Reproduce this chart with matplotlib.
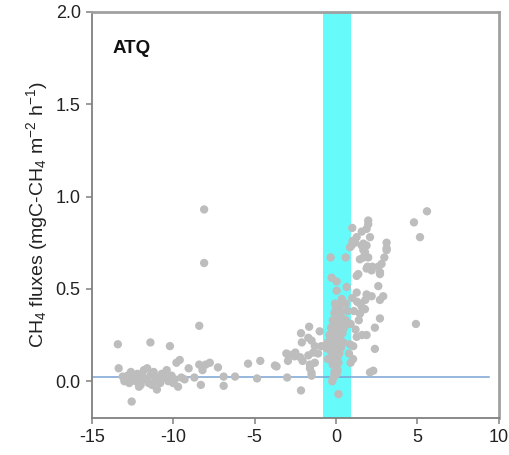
import numpy as np
import matplotlib.pyplot as plt

plt.rcParams['font.family'] = ['Liberation Sans', 'DejaVu Sans']
plt.rcParams['mathtext.fontset'] = 'custom'
plt.rcParams['mathtext.rm'] = 'Liberation Sans'
plt.rcParams['mathtext.it'] = 'Liberation Sans:italic'
plt.rcParams['axes.unicode_minus'] = False

# days relative to event (x) and CH4 flux (y)
days = [
    -13.4, -11.4, -10.2, -8.4, -8.1, -8.1,
    -13.35, -13.1, -12.9, -12.7, -12.5, -12.3, -12.2, -12.0, -11.9, -11.8,
    -11.7, -11.5, -11.4, -11.2, -11.1, -10.9, -10.8, -10.7, -10.5, -10.4,
    -10.3, -10.1, -9.9, -9.8, -9.7, -9.6, -9.5, -9.3, -9.05, -8.7, -8.4,
    -8.3, -8.2, -8.0, -7.75, -7.25, -6.9, -6.9, -6.2, -5.4, -4.85, -4.65,
    -11.0, -12.55, -12.0, -12.6, -11.6, -12.1, -10.0, -11.3, -12.8, -13.0,
    -3.65, -3.0, -2.95, -2.95, -2.55, -2.15, -2.15, -2.05, -1.65, -1.7,
    -1.5, -1.6, -1.5, -1.3, -0.9, -1.0, -2.2, -1.7, -1.3, -1.6, -1.5,
    -1.1, -2.5, -2.1, -1.4, -3.05, -3.75, -2.6,
    -0.33, 0.6, -0.27, 0.04, 0.66, 0.04, -0.06, 0.35, -0.23, 0.15,
    0.0, 0.2, 0.4, 0.6, -0.1, 0.1, 0.3, 0.7, -0.2, 0.0, 0.2, 0.4,
    0.6, -0.3, -0.1, 0.1, 0.3, 0.5, -0.4, -0.2, 0.0, 0.2, 0.4, -0.5, -0.3,
    -0.1, 0.1, 0.3, -0.4, -0.2, 0.0, 0.2, -0.3, -0.1, 0.1, -0.2, 0.0, 0.15,
    -0.1, 0.05, -0.15, 0.1, -0.5, -0.6, 0.3, 0.45,
    1.98, 1.98, 1.0, 1.58, 1.88, 2.09, 1.27, 0.96, 1.17, 1.58, 1.88, 1.78,
    1.98, 1.68, 3.11, 3.11, 2.97, 2.8, 2.6, 2.23, 1.94, 2.7, 1.27, 2.6,
    1.27, 1.88, 2.19, 2.9, 2.7, 2.7, 2.39, 1.88, 2.39, 2.29, 2.09, 1.27,
    1.06, 1.47, 1.78, 1.47, 1.8, 0.86, 1.02, 0.86,
    4.79, 5.59, 5.16, 4.91,
    1.0, 1.3, 1.6, 1.1, 1.4, 0.9, 1.2, 1.6, 0.8, 0.9, 1.05,
    1.37, 1.88, 2.19, 2.7, 1.47, 1.68, 1.68, 3.11,
]
flux = [
    0.20, 0.21, 0.19, 0.30, 0.93, 0.64,
    0.07, 0.025, 0.01, -0.01, 0.02, 0.0, 0.04, -0.02, 0.03, 0.06,
    0.01, -0.01, 0.03, 0.05, 0.0, 0.02, -0.01, 0.04, 0.02, 0.06,
    0.0, 0.03, 0.01, 0.10, -0.03, 0.115, 0.02, 0.01, 0.07, 0.02, 0.09,
    -0.02, 0.06, 0.09, 0.10, 0.075, 0.025, -0.025, 0.025, 0.095, 0.015, 0.11,
    -0.045, -0.11, 0.0, 0.05, 0.07, -0.03, -0.01, -0.02, 0.03, 0.0,
    0.08, 0.02, 0.145, 0.11, 0.135, 0.26, -0.05, 0.11, 0.295, 0.235,
    0.03, 0.07, 0.22, 0.19, 0.19, 0.27, 0.13, 0.14, 0.10, 0.09, 0.045,
    0.15, 0.155, 0.21, 0.155, 0.15, 0.085, 0.145,
    0.67, 0.67, 0.56, 0.54, 0.51, 0.49, 0.42, 0.445, 0.0, -0.07,
    0.40, 0.41, 0.43, 0.42, 0.37, 0.36, 0.38, 0.38, 0.33, 0.32, 0.33, 0.34,
    0.33, 0.29, 0.28, 0.29, 0.30, 0.29, 0.25, 0.24, 0.25, 0.24, 0.26, 0.21, 0.20,
    0.21, 0.20, 0.22, 0.17, 0.16, 0.17, 0.15, 0.13, 0.12, 0.13, 0.09, 0.08, 0.10,
    0.05, 0.04, 0.02, 0.06, 0.12, 0.18, 0.18, 0.21,
    0.87, 0.85, 0.83, 0.81, 0.825, 0.78, 0.78, 0.735, 0.75, 0.735, 0.735, 0.70,
    0.67, 0.67, 0.75, 0.72, 0.67, 0.635, 0.62, 0.62, 0.62, 0.58, 0.57, 0.515,
    0.48, 0.47, 0.46, 0.46, 0.44, 0.34, 0.29, 0.25, 0.175, 0.057, 0.048, 0.24,
    0.19, 0.365, 0.39, 0.42, 0.44, 0.725, 0.76, 0.20,
    0.86, 0.92, 0.78, 0.31,
    0.45, 0.43, 0.40, 0.38, 0.33, 0.31, 0.28, 0.25, 0.15, 0.10, 0.12,
    0.58, 0.61, 0.60, 0.59, 0.66, 0.71, 0.745, 0.71,
]

band = (-0.78, 0.92)
baseline = 0.023

fig = plt.figure(figsize=(5.1, 4.55), dpi=100)
ax = fig.add_axes([0.18, 0.081, 0.798, 0.893])

ax.axvspan(band[0], band[1], color='#66fafa', zorder=1, lw=0)
ax.plot([-15, 9.4], [baseline, baseline], color='#7aa3d3', lw=1.1, zorder=2)
ax.scatter(days, flux, s=36, color='#bdbdbd', edgecolors='none', zorder=3)

ax.set_xlim(-15, 10)
ax.set_ylim(-0.2, 2.0)
ax.set_xticks([-15, -10, -5, 0, 5, 10])
ax.set_yticks([0.0, 0.5, 1.0, 1.5, 2.0])
ax.set_yticklabels(['0.0', '0.5', '1.0', '1.5', '2.0'])

for side in ['left', 'bottom']:
    ax.spines[side].set_color('#808080')
    ax.spines[side].set_linewidth(1.3)
for side in ['top', 'right']:
    ax.spines[side].set_color('#a0a0a0')
    ax.spines[side].set_linewidth(2.0)
ax.tick_params(direction='out', length=4.5, width=1.1, color='#808080',
               labelsize=13, labelcolor='#222222')

ax.set_ylabel(r'CH$_4$ fluxes (mgC-CH$_4$ m$^{-2}$ h$^{-1}$)', fontsize=14,
              color='#222222', labelpad=4)
ax.text(0.05, 0.91, 'ATQ', transform=ax.transAxes, fontsize=13.5,
        fontweight='bold', color='#111111', va='center')

fig.savefig('out.png', dpi=100)
